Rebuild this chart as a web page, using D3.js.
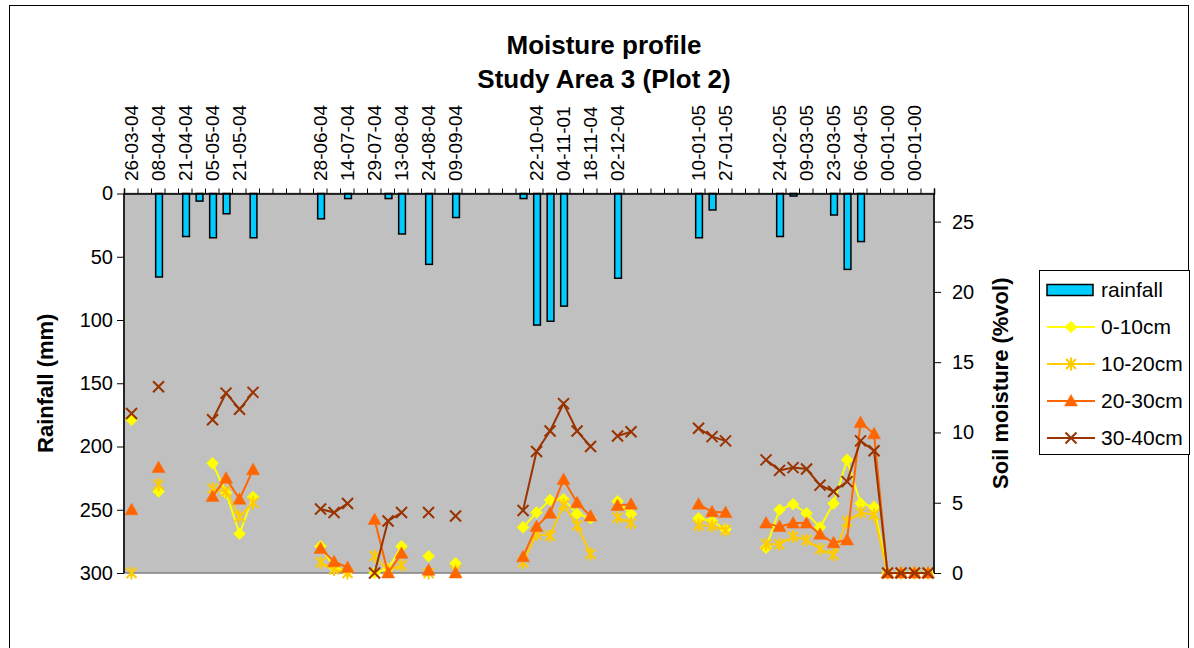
<!DOCTYPE html>
<html><head><meta charset="utf-8">
<script src="https://cdn.jsdelivr.net/npm/d3@7"></script>
<style>
body{margin:0;background:#fff}
svg{display:block}
text{font-family:Arial,"Liberation Sans",sans-serif;fill:#000}
</style>
</head><body>
<svg id="c" width="1194" height="648"></svg>
<script>
const _ = null;
const titleLines = ["Moisture profile", "Study Area 3 (Plot 2)"];
const leftTitle = "Rainfall (mm)";
const rightTitle = "Soil moisture (%vol)";
const categories = [
 "26-03-04","","08-04-04","","21-04-04","","05-05-04","","21-05-04","",
 "","","","","28-06-04","","14-07-04","","29-07-04","",
 "13-08-04","","24-08-04","","09-09-04","","","","","",
 "22-10-04","","04-11-01","","18-11-04","","02-12-04","","","",
 "","","10-01-05","","27-01-05","","","","24-02-05","",
 "09-03-05","","23-03-05","","06-04-05","","00-01-00","","00-01-00",""];
const rainfall = [
 _,_,66,_,34,6,35,16,_,35,
 _,_,_,_,20,_,4,_,_,4,
 32,_,56,_,19,_,_,_,_,4,
 104,101,89,_,_,_,67,_,_,_,
 _,_,35,13,_,_,_,_,34,2,
 _,_,17,60,38,_,_,_,_,_];
const m0_10 = [
 10.9,_,5.8,_,_,_,7.8,5.7,2.8,5.4,
 _,_,_,_,1.9,0.4,0.1,_,0,0.3,
 1.9,_,1.2,_,0.7,_,_,_,_,3.25,
 4.3,5.2,5.25,4.2,3.9,_,5.1,4.2,_,_,
 _,_,3.9,3.7,3.1,_,_,1.8,4.5,4.9,
 4.25,3.25,4.95,8.05,4.95,4.7,0,0,0,0];
const m10_20 = [
 0,_,6.3,_,_,_,6.0,5.8,4.0,5.0,
 _,_,_,_,0.75,0.25,0,_,1.2,0.2,
 0.55,_,0,_,0.15,_,_,_,_,0.75,
 2.75,2.65,4.85,3.4,1.35,_,3.95,3.55,_,_,
 _,_,3.4,3.35,3.05,_,_,2.05,2.05,2.6,
 2.35,1.7,1.3,3.65,4.3,4.15,0,0,0,0];
const m20_30 = [
 4.5,_,7.5,_,_,_,5.45,6.75,5.25,7.35,
 _,_,_,_,1.75,0.8,0.4,_,3.8,0,
 1.4,_,0.2,_,0,_,_,_,_,1.15,
 3.3,4.25,6.65,5.0,4.05,_,4.8,4.9,_,_,
 _,_,4.9,4.35,4.3,_,_,3.55,3.3,3.55,
 3.55,2.75,2.15,2.35,10.7,9.9,0,0,0,0];
const m30_40 = [
 11.35,_,13.25,_,_,_,10.9,12.8,11.65,12.85,
 _,_,_,_,4.55,4.3,4.95,_,0,3.7,
 4.3,_,4.3,_,4.05,_,_,_,_,4.45,
 8.65,10.1,12.05,10.1,9.0,_,9.75,10.05,_,_,
 _,_,10.3,9.7,9.4,_,_,8.05,7.3,7.5,
 7.4,6.25,5.8,6.5,9.4,8.7,0,0,0,0];
const leftTicks = [0,50,100,150,200,250,300];
const rightTicks = [0,5,10,15,20,25];
const seriesNames = ["0-10cm","10-20cm","20-30cm","30-40cm"];
const seriesValues = [m0_10, m10_20, m20_30, m30_40];

// ---- styles ----
const colors = ["#FFFF00","#FFCC00","#FF6600","#993300"];
const markers = ["diamond","star","triangle","x"];
const L = 124, R = 934, T = 193.5, B = 573;

const svg = d3.select("#c");
svg.append("rect").attr("x",9.5).attr("y",5.5).attr("width",1179).attr("height",700)
  .attr("fill","#fff").attr("stroke","#000").attr("stroke-width",1);

const x = d3.scaleBand().domain(d3.range(categories.length)).range([L,R]).padding(0);
const xEdge = d3.scaleLinear().domain([0,categories.length]).range([L,R]);
const yL = d3.scaleLinear().domain([0,300]).range([T,B]);
const yR = d3.scaleLinear().domain([0,27]).range([B,T]);
const cx = i => x(i)+x.bandwidth()/2+0.8;

// plot area
svg.append("rect").attr("x",L).attr("y",T).attr("width",R-L).attr("height",B-T)
  .attr("fill","#C0C0C0").attr("stroke","#808080").attr("stroke-width",1.5);

// bars
const bw = x.bandwidth()*0.5;
svg.append("g").selectAll("rect").data(rainfall.map((v,i)=>({v,i})).filter(d=>d.v!=null))
  .join("rect")
  .attr("x",d=>cx(d.i)-bw/2+0.5)
  .attr("y",yL(0))
  .attr("width",bw)
  .attr("height",d=>yL(d.v)-yL(0))
  .attr("fill","#00CCFF").attr("stroke","#000").attr("stroke-width",1.5);

function markerPath(type){
  switch(type){
    case "diamond": return "M0,-6L6,0L0,6L-6,0Z";
    case "triangle": return "M0,-6.5L6.5,5L-6.5,5Z";
    case "x": return "M-5.5,-5.5L5.5,5.5M5.5,-5.5L-5.5,5.5";
    case "star": return "M-5,-5L5,5M5,-5L-5,5M0,-6.5L0,6.5";
  }
}
function drawMarker(g,type,color){
  const filled = (type==="diamond"||type==="triangle");
  g.append("path").attr("d",markerPath(type))
    .attr("fill",filled?color:"none")
    .attr("stroke",color).attr("stroke-width",filled?0.5:2);
}

// lines
seriesValues.forEach((vals,si)=>{
  const g = svg.append("g");
  const line = d3.line().defined(d=>d.v!=null)
    .x(d=>cx(d.i)).y(d=>yR(d.v));
  const pts = vals.map((v,i)=>({v,i}));
  g.append("path").attr("d",line(pts)).attr("fill","none")
    .attr("stroke",colors[si]).attr("stroke-width",2);
  pts.filter(d=>d.v!=null).forEach(d=>{
    const mg = g.append("g").attr("transform",`translate(${cx(d.i)},${yR(d.v)})`);
    drawMarker(mg,markers[si],colors[si]);
  });
});

// axes lines
svg.append("line").attr("x1",L).attr("x2",L).attr("y1",T).attr("y2",B).attr("stroke","#000").attr("stroke-width",1.5);
svg.append("line").attr("x1",R).attr("x2",R).attr("y1",T).attr("y2",B).attr("stroke","#000").attr("stroke-width",1.5);

// top axis tick marks
const topAx = svg.append("g").attr("transform",`translate(0,${T})`)
  .call(d3.axisTop(xEdge).tickValues(d3.range(categories.length+1)).tickSize(5).tickFormat(""));
topAx.selectAll("line").attr("stroke","#000").attr("stroke-width",1);
topAx.select(".domain").attr("stroke","#000").attr("stroke-width",1.5);

// top labels
svg.append("g").selectAll("text").data(categories.map((c,i)=>({c,i})).filter(d=>d.i%2===0 && d.c!==""))
  .join("text")
  .attr("transform",d=>`translate(${cx(d.i)},181) rotate(-90)`)
  .attr("dy","0.35em").attr("font-size",19).text(d=>d.c);

// left axis
const la = svg.append("g").attr("transform",`translate(${L},0)`)
  .call(d3.axisLeft(yL).tickValues(leftTicks).tickSize(7).tickPadding(4));
la.select(".domain").remove();
la.selectAll("line").attr("stroke","#000");
la.selectAll("text").attr("font-size",20).attr("font-family","Arial,'Liberation Sans',sans-serif").attr("fill","#000");

// right axis
const ra = svg.append("g").attr("transform",`translate(${R},0)`)
  .call(d3.axisRight(yR).tickValues(rightTicks).tickSize(7).tickPadding(11));
ra.select(".domain").remove();
ra.selectAll("line").attr("stroke","#000");
ra.selectAll("text").attr("font-size",20).attr("font-family","Arial,'Liberation Sans',sans-serif").attr("fill","#000");

// titles
svg.append("text").attr("x",604).attr("y",54).attr("text-anchor","middle")
  .attr("font-size",26).attr("font-weight","bold").text(titleLines[0]);
svg.append("text").attr("x",604).attr("y",88).attr("text-anchor","middle")
  .attr("font-size",26).attr("font-weight","bold").text(titleLines[1]);
svg.append("text").attr("transform",`translate(45,${(T+B)/2}) rotate(-90)`)
  .attr("text-anchor","middle").attr("dy","0.35em")
  .attr("font-size",22).attr("font-weight","bold").text(leftTitle);
svg.append("text").attr("transform",`translate(1000,${(T+B)/2}) rotate(-90)`)
  .attr("text-anchor","middle").attr("dy","0.35em")
  .attr("font-size",22).attr("font-weight","bold").text(rightTitle);

// legend
const lg = svg.append("g");
lg.append("rect").attr("x",1039.5).attr("y",270.5).attr("width",150).attr("height",184)
  .attr("fill","#fff").attr("stroke","#000").attr("stroke-width",1);
const ly0 = 290, ldy = 37;
lg.append("rect").attr("x",1047).attr("y",ly0-5.5).attr("width",46).attr("height",11)
  .attr("fill","#00CCFF").attr("stroke","#000").attr("stroke-width",1.5);
lg.append("text").attr("x",1101).attr("y",ly0).attr("dy","0.35em").attr("font-size",21).text("rainfall");
seriesNames.forEach((n,si)=>{
  const yy = ly0 + ldy*(si+1);
  lg.append("line").attr("x1",1047).attr("x2",1095).attr("y1",yy).attr("y2",yy)
    .attr("stroke",colors[si]).attr("stroke-width",2);
  const mg = lg.append("g").attr("transform",`translate(1071,${yy})`);
  drawMarker(mg,markers[si],colors[si]);
  lg.append("text").attr("x",1101).attr("y",yy).attr("dy","0.35em").attr("font-size",21).text(n);
});
</script>
</body></html>
